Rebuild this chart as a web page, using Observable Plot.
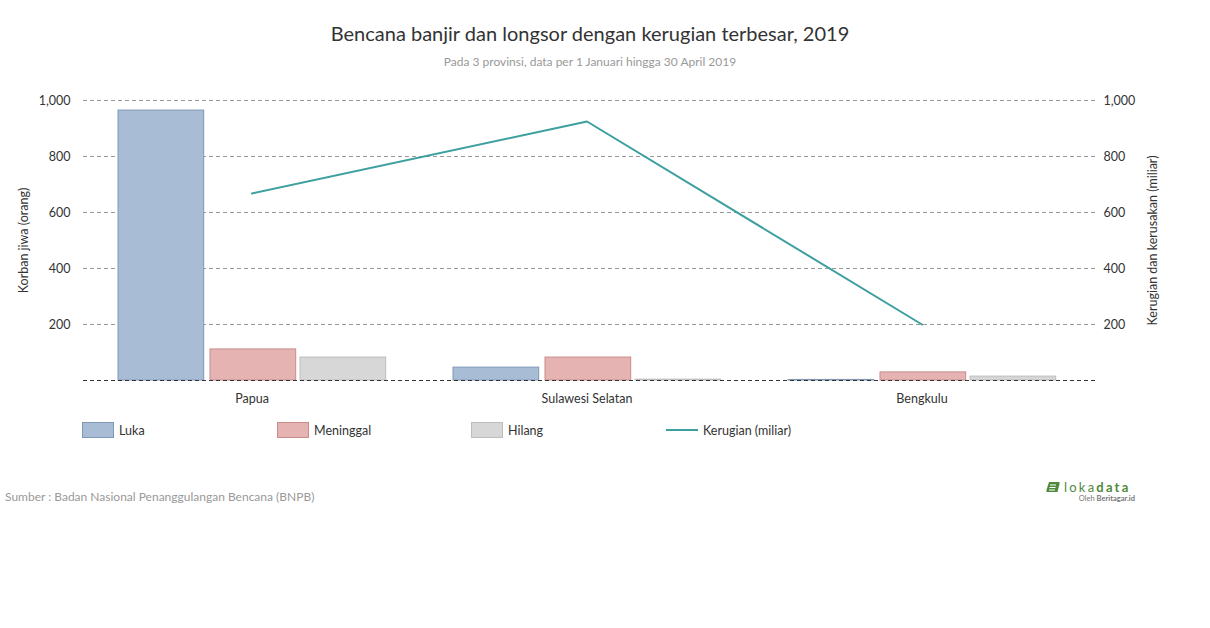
<!DOCTYPE html>
<html>
<head>
<meta charset="utf-8">
<script src="https://cdn.jsdelivr.net/npm/d3@7"></script>
<script src="https://cdn.jsdelivr.net/npm/@observablehq/plot@0.6"></script>
<style>
  body { margin: 0; background: #fff; font-family: Lato, "Open Sans", sans-serif; }
  #wrap { position: relative; width: 1210px; height: 628px; overflow: hidden; }
  .abs { position: absolute; white-space: nowrap; }
  #title { left: 0; width: 1180px; top: 21px; text-align: center; font-size: 20px; line-height: 24px; color: #333; }
  #subtitle { left: 0; width: 1180px; top: 55px; text-align: center; font-size: 12px; line-height: 14px; color: #999; }
  #chart { position: absolute; left: 0; top: 80px; }
  .leg { position: absolute; top: 422px; height: 18px; font-size: 12.5px; color: #333; line-height: 18px; white-space: nowrap; width: 180px; }
  .sw { position: absolute; left: 0; top: 1px; width: 30px; height: 14px; box-sizing: border-box; }
  .leg span.t { position: absolute; left: 37px; top: 0; white-space: nowrap; }
  #source { left: 5px; top: 489px; font-size: 12px; color: #999; line-height: 16px; }
  #logo { left: 1045px; top: 479px; width: 92px; }
</style>
</head>
<body>
<div id="wrap">
  <div id="title" class="abs">Bencana banjir dan longsor dengan kerugian terbesar, 2019</div>
  <div id="subtitle" class="abs">Pada 3 provinsi, data per 1 Januari hingga 30 April 2019</div>
  <div id="chart"></div>
  <div id="legend"></div>
  <div id="source" class="abs">Sumber : Badan Nasional Penanggulangan Bencana (BNPB)</div>
  <div id="logo" class="abs">
    <svg width="92" height="24">
      <path d="M4 3 L14 3 Q15 3 14.5 5 L12.5 13 L2 13 Q1 13 1.5 11 Z" fill="#4f8a3c"/>
      <line x1="5" y1="6" x2="11" y2="6" stroke="#fff" stroke-width="1"/>
      <line x1="4.5" y1="8.5" x2="10.5" y2="8.5" stroke="#fff" stroke-width="1"/>
      <line x1="4" y1="11" x2="10" y2="11" stroke="#fff" stroke-width="1"/>
      <text x="19" y="13" font-family="Lato, sans-serif" font-size="13" fill="#4f8a3c" letter-spacing="2.2">loka<tspan font-weight="bold">data</tspan></text>
      <text x="90" y="22" text-anchor="end" font-family="Lato, sans-serif" font-size="7.5" fill="#777">Oleh <tspan font-weight="bold">Beritagar.id</tspan></text>
    </svg>
  </div>
</div>
<script>
// ---- data ----
const provinces = ["Papua", "Sulawesi Selatan", "Bengkulu"];
const luka = [964, 46, 2];
const meninggal = [111, 82, 29];
const hilang = [82, 3, 14];
const kerugian = [668, 925, 200];
const yTicks = [200, 400, 600, 800, 1000];
const seriesNames = ["Luka", "Meninggal", "Hilang", "Kerugian (miliar)"];

// ---- styles ----
const colors = {
  Luka: { fill: "#a9bcd6", stroke: "#7f98b6" },
  Meninggal: { fill: "#e6b3b3", stroke: "#c98c8c" },
  Hilang: { fill: "#d7d7d7", stroke: "#bdbdbd" },
  line: "#3d9f9f"
};

const table = provinces.map((p, i) => ({
  province: p, Luka: luka[i], Meninggal: meninggal[i], Hilang: hilang[i], Kerugian: kerugian[i]
}));

// inset layout of the three grouped bars within each province band (band ≈ 335px)
const insets = {
  Luka: [34, 215.3],
  Meninggal: [126, 123.3],
  Hilang: [216, 33.3]
};

const bar = (key) => Plot.barY(table, {
  x: "province", y: key,
  fill: colors[key].fill, stroke: colors[key].stroke, strokeWidth: 1,
  insetLeft: insets[key][0], insetRight: insets[key][1]
});

const chart = Plot.plot({
  width: 1210,
  height: 330,
  marginTop: 20,
  marginBottom: 30,
  marginLeft: 83,
  marginRight: 113,
  style: { fontFamily: "Lato, sans-serif", fontSize: "12.5px", color: "#333", background: "transparent" },
  x: { domain: provinces, padding: 0, range: [83, 1089] },
  y: { domain: [0, 1000] },
  marks: [
    Plot.ruleY(yTicks, { stroke: "#999", strokeDasharray: "4,3", strokeWidth: 1 }),
    bar("Luka"),
    bar("Meninggal"),
    bar("Hilang"),
    Plot.ruleY([0], { stroke: "#333", strokeDasharray: "4,3", strokeWidth: 1 }),
    Plot.line(table, { x: "province", y: "Kerugian", stroke: colors.line, strokeWidth: 2 }),
    Plot.axisX({ tickSize: 0, tickPadding: 14, label: null, fontSize: 12.5 }),
    Plot.axisY({ anchor: "left", ticks: yTicks, tickFormat: d3.format(","), tickSize: 0, tickPadding: 13,
      label: "Korban jiwa (orang)", labelAnchor: "center", labelOffset: 64, labelArrow: "none" }),
    Plot.axisY({ anchor: "right", ticks: yTicks, tickFormat: d3.format(","), tickSize: 0, tickPadding: 6,
      label: "Kerugian dan kerusakan (miliar)", labelAnchor: "center", labelOffset: 59, labelArrow: "none" })
  ]
});
document.getElementById("chart").appendChild(chart);

// ---- legend ----
const legend = document.getElementById("legend");
const legX = [82, 277, 471, 666];
seriesNames.forEach((name, i) => {
  const item = document.createElement("div");
  item.className = "leg";
  item.style.left = legX[i] + "px";
  const sw = document.createElement("div");
  sw.className = "sw";
  if (i < 3) {
    sw.style.background = colors[name].fill;
    sw.style.border = "1px solid " + colors[name].stroke;
    sw.style.width = "32px";
    sw.style.height = "16px";
    sw.style.top = "0px";
  } else {
    sw.style.top = "7px";
    sw.style.height = "2px";
    sw.style.width = "32px";
    sw.style.background = colors.line;
  }
  const t = document.createElement("span");
  t.className = "t";
  t.textContent = name;
  item.appendChild(sw);
  item.appendChild(t);
  legend.appendChild(item);
});
</script>
</body>
</html>
